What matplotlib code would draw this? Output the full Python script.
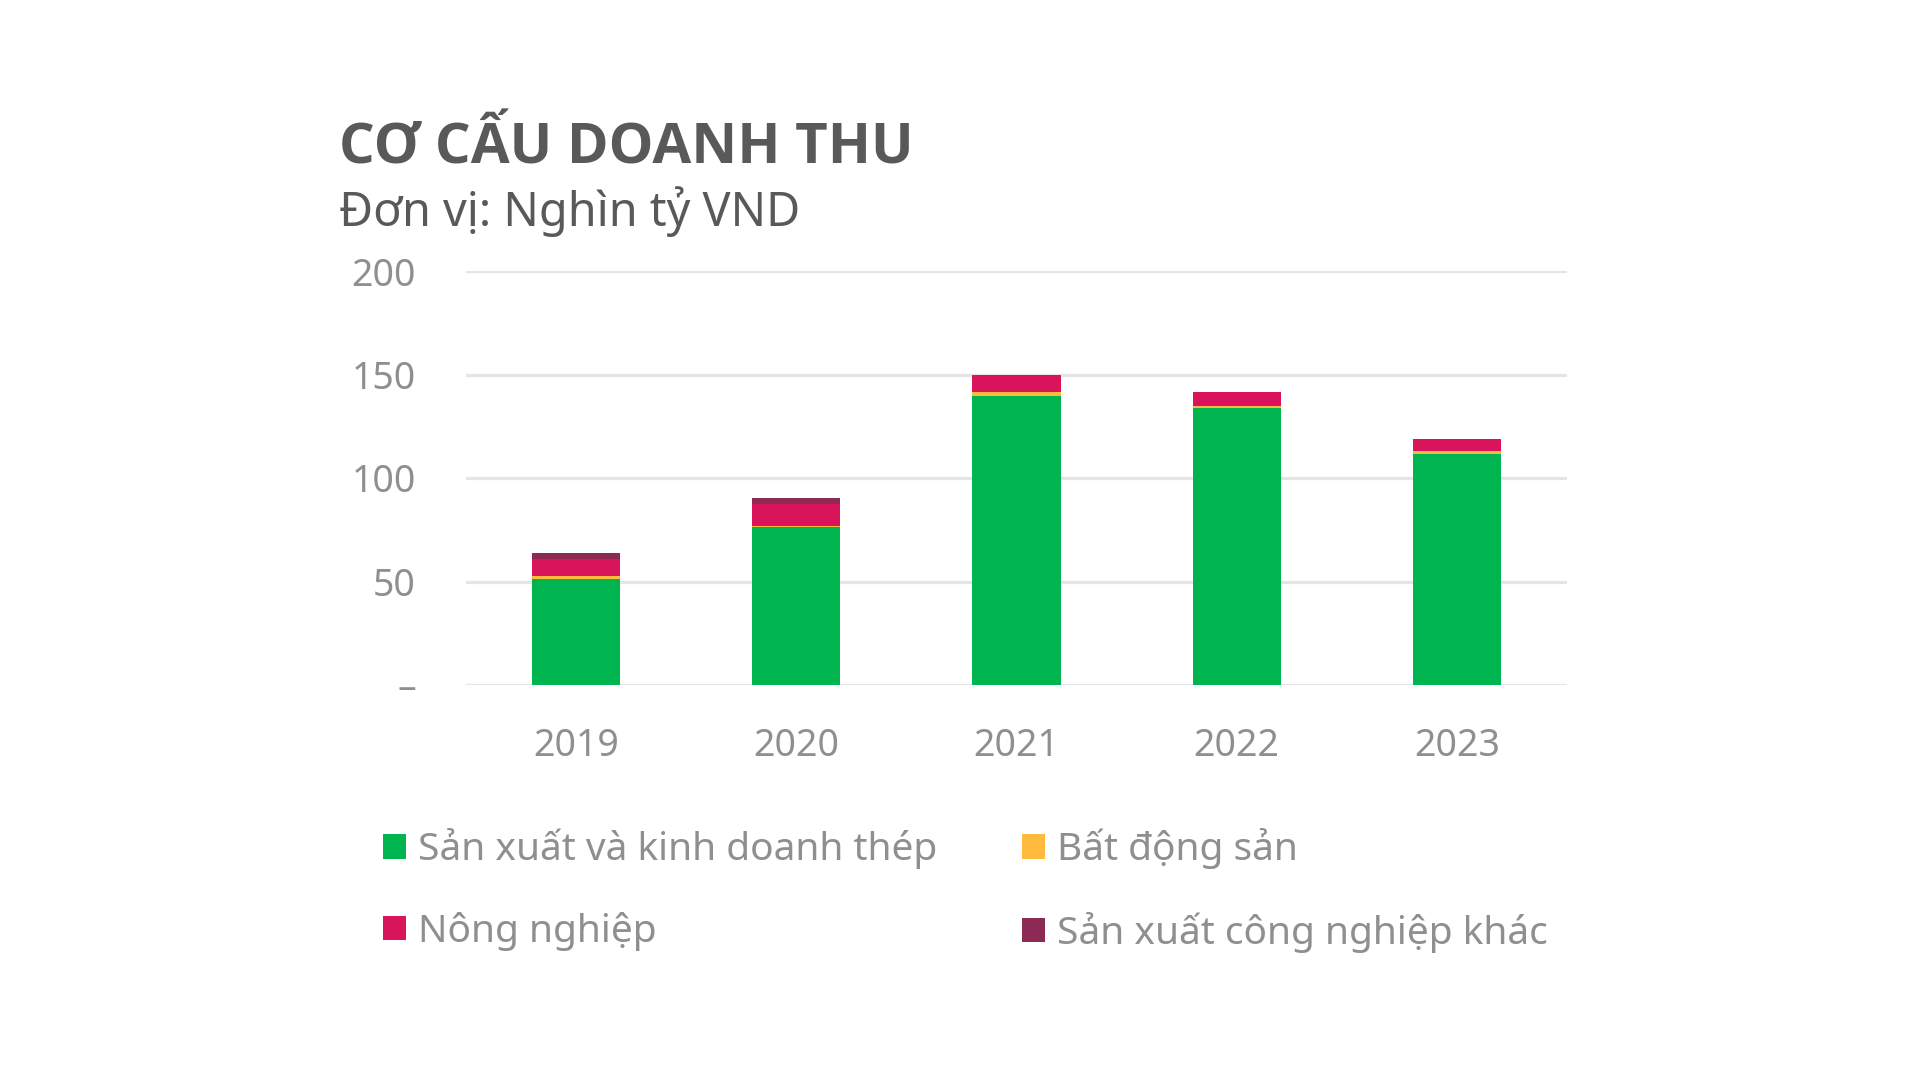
import matplotlib
matplotlib.use('Agg')
import matplotlib.pyplot as plt
from matplotlib.patches import Patch

years = ['2019', '2020', '2021', '2022', '2023']
steel = [51.0, 76.5, 139.8, 133.8, 111.7]
real_estate = [1.6, 0.5, 1.7, 1.0, 1.2]
agriculture = [8.1, 10.4, 8.2, 6.6, 6.1]
other = [2.9, 2.8, 0.0, 0.0, 0.0]
series_names = ['Sản xuất và kinh doanh thép', 'Bất động sản', 'Nông nghiệp',
                'Sản xuất công nghiệp khác']
colors = ['#00B550', '#FFB93C', '#D9145A', '#8C2A55']
yticks = [0, 50, 100, 150, 200]
ytick_labels = ['–', '50', '100', '150', '200']

FONT = ['Noto Sans', 'DejaVu Sans']
plt.rcParams['font.family'] = FONT

W, H = 1920, 1080
fig = plt.figure(figsize=(W / 100, H / 100), dpi=100)
fig.patch.set_facecolor('white')

ax = fig.add_axes([466 / W, 395 / H, 1101 / W, 414 / H])
x = list(range(len(years)))
series = [steel, real_estate, agriculture, other]
bottom = [0.0] * len(years)
for vals, col in zip(series, colors):
    ax.bar(x, vals, width=0.4, bottom=bottom, color=col, zorder=3)
    bottom = [b + v for b, v in zip(bottom, vals)]

ax.set_xlim(-0.5, 4.5)
ax.set_ylim(0, 200)
ax.set_yticks(yticks)
ax.set_yticklabels(ytick_labels)
ax.set_xticks(x)
ax.set_xticklabels(years)
ax.yaxis.grid(True, color='#e5e5e5', linewidth=2.3, zorder=0)
ax.set_axisbelow(True)
for s in ax.spines.values():
    s.set_visible(False)
ax.tick_params(axis='both', length=0, labelsize=27, labelcolor='#8f8f8f',
               labelfontfamily=FONT)
ax.tick_params(axis='y', pad=36)
ax.tick_params(axis='x', pad=30)
ax.set_facecolor('none')

fig.text(339 / W, 1 - 163 / H, 'CƠ CẤU DOANH THU', fontsize=40.6, fontweight='bold',
         family=['Open Sans', 'DejaVu Sans'],
         color='#595959', va='baseline', ha='left')
fig.text(339 / W, 1 - 226 / H, 'Đơn vị: Nghìn tỷ VND', fontsize=33.7,
         color='#595959', va='baseline', ha='left')

handles = [Patch(facecolor=c, edgecolor='none') for c in colors]
order = [0, 2, 1, 3]
fig.legend([handles[i] for i in order], [series_names[i] for i in order],
           ncol=2, loc='upper left', bbox_to_anchor=(348 / W, 1 - 793 / H),
           bbox_transform=fig.transFigure, frameon=False, fontsize=28,
           labelcolor='#8f8f8f', handlelength=0.6, handleheight=0.6,
           handletextpad=0.3, columnspacing=2.18, labelspacing=1.1)

fig.savefig('out.png', dpi=100, facecolor='white')
